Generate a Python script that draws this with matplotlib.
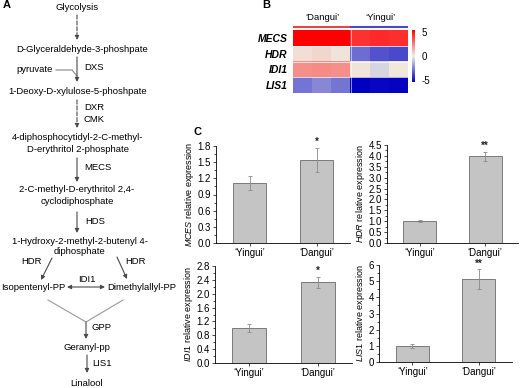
import numpy as np
import matplotlib
matplotlib.use("Agg")
import matplotlib.pyplot as plt
from matplotlib.colors import LinearSegmentedColormap
from matplotlib.ticker import AutoMinorLocator

plt.rcParams['font.family'] = ['Liberation Sans', 'DejaVu Sans']
plt.rcParams['mathtext.fontset'] = 'custom'
plt.rcParams['mathtext.rm'] = 'Liberation Sans'
plt.rcParams['mathtext.it'] = 'Liberation Sans:italic'
plt.rcParams['axes.unicode_minus'] = False

# ---- datos ----
cultivares = ['\u2018Yingui\u2019', '\u2018Dangui\u2019']

genes_hm = ['MECS', 'HDR', 'IDI1', 'LIS1']
grupos_hm = ['\u2018Dangui\u2019', '\u2018Yingui\u2019']
# 3 replicas Dangui + 3 replicas Yingui
valores_hm = np.array([
    [5.5, 5.5, 5.5, 4.3, 4.5, 4.4],
    [0.4, 0.6, 0.3, -3.0, -3.6, -3.8],
    [2.2, 2.3, 2.2, 0.3, -0.6, 0.2],
    [-2.8, -2.4, -2.8, -5.5, -5.3, -5.4],
])

mces_media = [1.12, 1.54]
mces_err = [0.13, 0.22]
hdr_media = [1.02, 3.98]
hdr_err = [0.05, 0.20]
idi1_media = [1.0, 2.33]
idi1_err = [0.115, 0.16]
lis1_media = [1.0, 5.13]
lis1_err = [0.14, 0.60]
signif = [['', '*'], ['', '**'], ['', '*'], ['', '**']]

fig = plt.figure(figsize=(5.2, 3.88), dpi=100)

# ---- panel B: heatmap ----
cmap = LinearSegmentedColormap.from_list('bwr2', ['#0000c0', '#f0f0e6', '#ff0000'])
ax_hm = fig.add_axes([293/520, 1-93/388, 115/520, 63/388])
im = ax_hm.imshow(valores_hm, cmap=cmap, vmin=-5.5, vmax=5.5, aspect='auto')
for k in range(1, len(genes_hm)):
    ax_hm.axhline(k-0.5, color='white', lw=0.5)
ax_hm.axvline(2.5, color='white', lw=0.4)
ax_hm.set_xticks([])
ax_hm.set_yticks(range(len(genes_hm)))
ax_hm.set_yticklabels(genes_hm, fontsize=7.5, fontstyle='italic', fontweight='bold')
ax_hm.tick_params(axis='y', length=0, pad=4)
for s in ax_hm.spines.values():
    s.set_visible(False)

ax_cb = fig.add_axes([412/520, 1-82/388, 3/520, 52/388])
cb = fig.colorbar(im, cax=ax_cb, ticks=[5, 0, -5])
cb.outline.set_visible(False)
cb.ax.tick_params(length=0, labelsize=7, pad=5)

# ---- panel C: barras ----
posiciones = [
    [216/520, 1-243/388, 134/520, 97/388],
    [387/520, 1-243/388, 131/520, 98/388],
    [215/520, 1-363/388, 137/520, 97/388],
    [379/520, 1-362/388, 133/520, 97/388],
]
medias = [mces_media, hdr_media, idi1_media, lis1_media]
errores = [mces_err, hdr_err, idi1_err, lis1_err]
ylims = [1.8, 4.5, 2.8, 6]
ypasos = [0.3, 0.5, 0.4, 1]
ylabels = [r'$\mathit{MCES}$ relative expression', r'$\mathit{HDR}$ relative expression',
           r'$\mathit{IDI1}$ relative expression', r'$\mathit{LIS1}$ relative expression']
decimales = ['%.1f', '%.1f', '%.1f', '%d']

for i in range(4):
    ax = fig.add_axes(posiciones[i])
    x = np.arange(len(cultivares))
    ax.bar(x, medias[i], width=0.5, color='#c4c4c4', edgecolor='#7a7a7a', lw=0.7)
    ax.errorbar(x, medias[i], yerr=errores[i], fmt='none', ecolor='#8a8a8a',
                elinewidth=0.6, capsize=1.2, capthick=0.6)
    for j in range(len(x)):
        if signif[i][j]:
            ax.text(x[j], medias[i][j] + errores[i][j] + ylims[i]*0.01, signif[i][j],
                    ha='center', va='bottom', fontsize=7, fontweight='bold',
                    color='#222222', clip_on=False)
    ax.set_xlim(-0.5, 1.5)
    ax.set_ylim(0, ylims[i])
    ax.set_yticks(np.arange(0, ylims[i] + 1e-6, ypasos[i]))
    ax.yaxis.set_major_formatter(plt.FormatStrFormatter(decimales[i]))
    ax.yaxis.set_minor_locator(AutoMinorLocator(2))
    ax.set_xticks(x)
    ax.set_xticklabels(cultivares)
    ax.tick_params(axis='both', labelsize=7, length=2, width=0.5, pad=1.5,
                   direction='out', labelcolor='black')
    ax.tick_params(axis='y', which='minor', length=1.2, width=0.5)
    ax.spines['top'].set_visible(False)
    ax.spines['right'].set_visible(False)
    ax.spines['left'].set_linewidth(0.6)
    ax.spines['bottom'].set_linewidth(0.6)
    ax.set_ylabel(ylabels[i], fontsize=6.5, labelpad=1.5)

# ---- panel A: ruta metabolica (coordenadas en pixeles) ----
ov = fig.add_axes([0, 0, 1, 1], facecolor='none')
ov.set_xlim(0, 520)
ov.set_ylim(388, 0)
ov.axis('off')

fs = 6.8
col_txt = 'black'
col_fl = '#4a4a4a'

textos_centro = [
    ('Glycolysis', 77, 8),
    ('D-Glyceraldehyde-3-phoshpate', 82, 50),
    ('pyruvate', 35, 70),
    ('1-Deoxy-D-xylulose-5-phoshpate', 78, 92),
    ('4-diphosphocytidyl-2-C-methyl-', 78, 137),
    ('D-erythritol 2-phosphate', 78, 149),
    ('2-C-methyl-D-erythritol 2,4-', 77, 190),
    ('cyclodiphosphate', 77, 202),
    ('1-Hydroxy-2-methyl-2-butenyl 4-', 80, 241),
    ('diphosphate', 80, 252),
    ('HDR', 32, 262),
    ('HDR', 135, 261),
    ('Isopentenyl-PP', 33, 287),
    ('IDI1', 87, 279),
    ('Dimethylallyl-PP', 142, 287),
    ('Geranyl-pp', 87, 347),
    ('Linalool', 87, 384),
]
for t, xx, yy in textos_centro:
    ov.text(xx, yy, t, ha='center', va='center', fontsize=fs, color=col_txt)

textos_izq = [
    ('DXS', 84, 68), ('DXR', 84, 108), ('CMK', 84, 119), ('MECS', 84, 168),
    ('HDS', 85, 222), ('GPP', 92, 327), ('LIS1', 92, 363),
]
for t, xx, yy in textos_izq:
    ov.text(xx, yy, t, ha='left', va='center', fontsize=fs, color=col_txt)

flechas = [
    ((77, 15), (77, 40), '--'),
    ((77, 57), (77, 82), '-'),
    ((77, 100), (77, 128), '--'),
    ((77, 158), (77, 182), '-'),
    ((77, 212), (77, 233), '-'),
    ((52, 258), (41, 280), '-'),
    ((117, 257), (127, 279), '-'),
    ((86, 322), (86, 339), '-'),
    ((87, 355), (87, 373), '-'),
]
for ini, fin, ls in flechas:
    ov.annotate('', xy=fin, xytext=ini,
                arrowprops=dict(arrowstyle='-|>', color=col_fl, lw=0.8, ls=ls,
                                mutation_scale=6, shrinkA=0, shrinkB=0))
ov.annotate('', xy=(105, 287), xytext=(67, 287),
            arrowprops=dict(arrowstyle='<|-|>', color=col_fl, lw=0.8,
                            mutation_scale=6, shrinkA=0, shrinkB=0))
ov.plot([56, 72, 77], [70, 70, 76], color='#888888', lw=0.8)
ov.plot([48, 86, 123], [300, 322, 300], color='#999999', lw=0.8)

# barras de grupo del heatmap
ov.plot([293, 350], [27, 27], color='#e04848', lw=1.5, solid_capstyle='butt')
ov.plot([350, 408], [27, 27], color='#4848c8', lw=1.5, solid_capstyle='butt')
ov.text(322, 17, grupos_hm[0], ha='center', va='center', fontsize=6.8)
ov.text(380, 17, grupos_hm[1], ha='center', va='center', fontsize=6.8)

# letras de panel
ov.text(3, 5, 'A', ha='left', va='center', fontsize=8, fontweight='bold')
ov.text(262, 5, 'B', ha='left', va='center', fontsize=8, fontweight='bold')
ov.text(193, 132, 'C', ha='left', va='center', fontsize=8, fontweight='bold')

fig.savefig('out.png', dpi=100)
